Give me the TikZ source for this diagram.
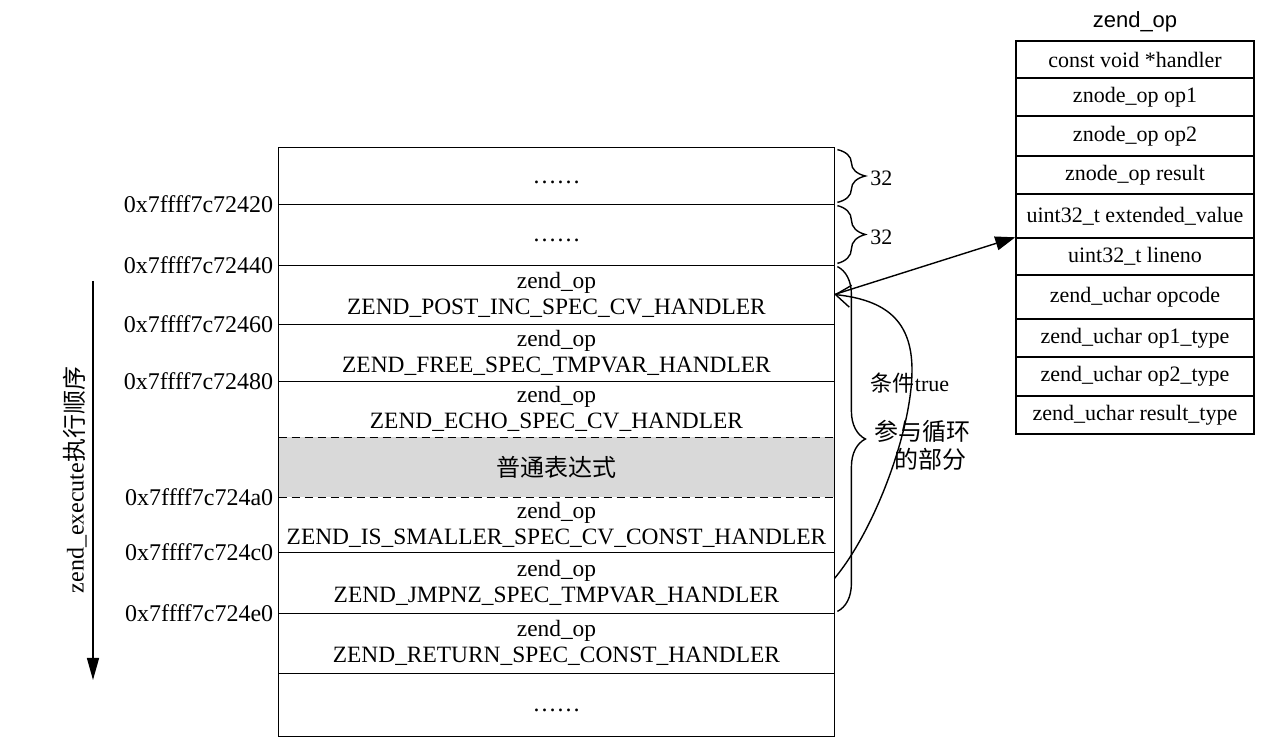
\documentclass[tikz,border=0pt]{standalone}
\usepackage{fontspec}
\setmainfont{Liberation Serif}
\newfontfamily\cjk{Noto Sans CJK SC}
\newfontfamily\sansf{Liberation Sans}
\usetikzlibrary{arrows.meta,decorations.pathreplacing}
\begin{document}
\begin{tikzpicture}[x=0.5pt,y=-0.5pt,
  rowbox/.style={minimum width=277.5pt,inner sep=0pt,align=center,font=\fontsize{11.7}{13}\selectfont},
  dots/.style={inner sep=0pt,font=\fontsize{12}{13}\selectfont},
  fieldbox/.style={draw,line width=0.7pt,minimum width=119pt,inner sep=0pt,font=\fontsize{11}{13}\selectfont},
  addr/.style={anchor=east,inner sep=0pt,font=\fontsize{12}{14}\selectfont},
  bracestyle/.style={decorate,decoration={brace,amplitude=14pt},line width=0.7pt},
  lbl/.style={inner sep=0pt,font=\fontsize{12}{14}\selectfont},
  frame/.style={line width=0.7pt},
  dashsep/.style={line width=0.7pt,dash pattern=on 4pt off 2.5pt},
]
\useasboundingbox (0,0) rectangle (1280,742);

% ---- main memory column ----
\node[rowbox,minimum height=28pt]   (r1)  at (556.5,176)   {};
\node[rowbox,minimum height=30.5pt] (r2)  at (556.5,234.5) {};
\node[rowbox,minimum height=29.5pt] (r3)  at (556.5,294.5) {zend\_op\\ZEND\_POST\_INC\_SPEC\_CV\_HANDLER};
\node[rowbox,minimum height=28.5pt] (r4)  at (556.5,352.5) {zend\_op\\ZEND\_FREE\_SPEC\_TMPVAR\_HANDLER};
\node[rowbox,minimum height=28pt]   (r5)  at (556.5,409)   {zend\_op\\ZEND\_ECHO\_SPEC\_CV\_HANDLER};
\node[rowbox,minimum height=30pt,fill=black!15] (r6) at (556.5,467) {{\cjk\fontsize{12}{14}\selectfont 普通表达式}};
\node[rowbox,minimum height=27.5pt] (r7)  at (556.5,524.5) {zend\_op\\ZEND\_IS\_SMALLER\_SPEC\_CV\_CONST\_HANDLER};
\node[rowbox,minimum height=30.5pt] (r8)  at (556.5,582.5) {zend\_op\\ZEND\_JMPNZ\_SPEC\_TMPVAR\_HANDLER};
\node[rowbox,minimum height=30pt]   (r9)  at (556.5,643)   {zend\_op\\ZEND\_RETURN\_SPEC\_CONST\_HANDLER};
\node[rowbox,minimum height=31.5pt] (r10) at (556.5,704.5) {};
\node[dots] (d1)  at ([yshift=-3pt]r1.center)  {……};
\node[dots] (d2)  at ([yshift=-3pt]r2.center)  {……};
\node[dots] (d10) at ([yshift=-3pt]r10.center) {……};

\draw[frame] (r1.north west) rectangle (r10.south east);
\foreach \r in {r1,r2,r3,r4,r7,r8,r9}
  \draw[frame] (\r.south west) -- (\r.south east);
\draw[dashsep] (r5.south west) -- (r5.south east);
\draw[dashsep] (r6.south west) -- (r6.south east);

% ---- addresses ----
\node[addr] (a1) at ([xshift=-2.5pt]r1.south west) {0x7ffff7c72420};
\node[addr] (a2) at ([xshift=-2.5pt]r2.south west) {0x7ffff7c72440};
\node[addr] (a3) at ([xshift=-2.5pt]r3.south west) {0x7ffff7c72460};
\node[addr] (a4) at ([xshift=-2.5pt]r4.south west) {0x7ffff7c72480};
\node[addr] (a5) at ([xshift=-2.5pt]r6.south west) {0x7ffff7c724a0};
\node[addr] (a6) at ([xshift=-2.5pt]r7.south west) {0x7ffff7c724c0};
\node[addr] (a7) at ([xshift=-2.5pt]r8.south west) {0x7ffff7c724e0};

% ---- execution order arrow ----
\coordinate (as) at (93,281);
\coordinate (ae) at (93,680);
\draw[frame,-{Triangle[length=11pt,width=6pt]}] (as) -- (ae);
\node[rotate=90,inner sep=0pt,font=\fontsize{12}{14}\selectfont] (exec) at (75,480) {zend\_execute{\cjk 执行顺序}};

% ---- braces ----
\draw[bracestyle] ([xshift=1.5pt,yshift=-1pt]r1.north east) -- ([xshift=1.5pt,yshift=1pt]r1.south east);
\draw[bracestyle] ([xshift=1.5pt,yshift=-1pt]r2.north east) -- ([xshift=1.5pt,yshift=1pt]r2.south east);
\draw[bracestyle] ([xshift=1.5pt,yshift=-1pt]r3.north east) -- ([xshift=1.5pt,yshift=1pt]r8.south east);
\node[lbl,anchor=west,font=\fontsize{11}{13}\selectfont] (b1) at (870,178) {32};
\node[lbl,anchor=west,font=\fontsize{11}{13}\selectfont] (b2) at (870,237) {32};
\node[lbl] (loop1) at (922,431) {{\cjk 参与循环}};
\node[lbl] (loop2) at (930,459) {{\cjk 的部分}};
\node[lbl,font=\fontsize{11}{13}\selectfont] (cond) at (910,383) {{\cjk 条件}true};

% ---- zend_op struct ----
\node[inner sep=0pt,font=\sansf\fontsize{11}{13}\selectfont] (title) at (1135,22) {zend\_op};
\node[fieldbox,minimum height=18.5pt] (f1)  at (1135,59.5)  {const void *handler};
\node[fieldbox,minimum height=19pt]   (f2)  at (1135,97)    {znode\_op op1};
\node[fieldbox,minimum height=20pt]   (f3)  at (1135,136)   {znode\_op op2};
\node[fieldbox,minimum height=19pt]   (f4)  at (1135,175)   {znode\_op result};
\node[fieldbox,minimum height=22pt]   (f5)  at (1135,216)   {uint32\_t extended\_value};
\node[fieldbox,minimum height=18.5pt] (f6)  at (1135,256.5) {uint32\_t lineno};
\node[fieldbox,minimum height=22pt]   (f7)  at (1135,297)   {zend\_uchar opcode};
\node[fieldbox,minimum height=19pt]   (f8)  at (1135,338)   {zend\_uchar op1\_type};
\node[fieldbox,minimum height=19.5pt] (f9)  at (1135,376.5) {zend\_uchar op2\_type};
\node[fieldbox,minimum height=19pt]   (f10) at (1135,415)   {zend\_uchar result\_type};

% ---- connectors ----
\draw[frame,-{Triangle[length=10pt,width=7pt]}] (r3.east) -- (f6.north west);
\draw[frame,-{Straight Barb[length=7.5pt,width=11pt]}] ([yshift=2pt]r8.east) .. controls (875,530) and (912,430) .. (912,370) .. controls (912,320) and (885,300) .. (r3.east);
\end{tikzpicture}
\end{document}
